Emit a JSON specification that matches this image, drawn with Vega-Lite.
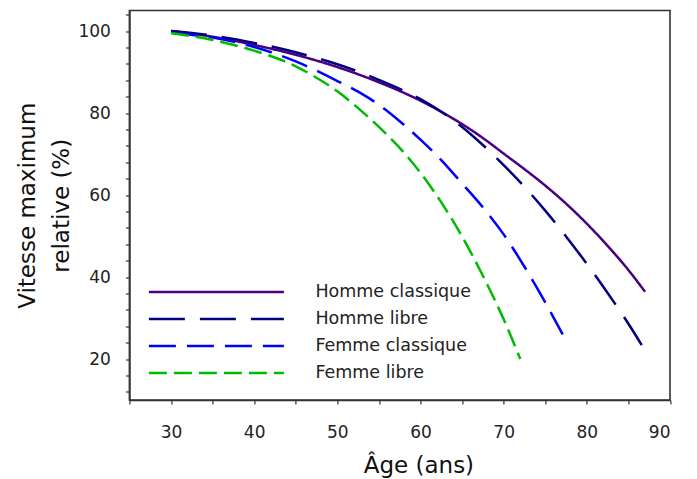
{
  "$schema": "https://vega.github.io/schema/vega-lite/v6.json",
  "width": 540.6,
  "height": 389.5,
  "autosize": "none",
  "padding": {"left": 129.4, "top": 10.5, "right": 27, "bottom": 79},
  "view": {"stroke": "#333", "strokeWidth": 1.6, "fill": null},
  "config": {
    "font": "DejaVu Sans",
    "view": {"stroke": "#333", "strokeWidth": 1.6},
    "legend": {
      "orient": "none",
      "legendX": 18,
      "legendY": 268,
      "symbolType": "stroke",
      "symbolSize": 18225,
      "symbolStrokeWidth": 2.5,
      "clipHeight": 27,
      "rowPadding": 0,
      "padding": 0,
      "labelOffset": 30,
      "labelFontSize": 17.5,
      "labelColor": "#222",
      "labelFont": "DejaVu Sans",
      "symbolOffset": 0
    }
  },
  "data": {
    "values": [
      {"age": 30, "v": 100, "serie": "Homme classique"},
      {"age": 35, "v": 98.6, "serie": "Homme classique"},
      {"age": 40, "v": 96.6, "serie": "Homme classique"},
      {"age": 45, "v": 94.2, "serie": "Homme classique"},
      {"age": 50, "v": 91.2, "serie": "Homme classique"},
      {"age": 55, "v": 87.5, "serie": "Homme classique"},
      {"age": 60, "v": 83, "serie": "Homme classique"},
      {"age": 62.5, "v": 80.3, "serie": "Homme classique"},
      {"age": 65, "v": 77.3, "serie": "Homme classique"},
      {"age": 67.5, "v": 73.9, "serie": "Homme classique"},
      {"age": 70, "v": 70.1, "serie": "Homme classique"},
      {"age": 72.5, "v": 66.3, "serie": "Homme classique"},
      {"age": 75, "v": 62.3, "serie": "Homme classique"},
      {"age": 77.5, "v": 57.9, "serie": "Homme classique"},
      {"age": 80, "v": 53, "serie": "Homme classique"},
      {"age": 82.5, "v": 47.6, "serie": "Homme classique"},
      {"age": 85, "v": 41.7, "serie": "Homme classique"},
      {"age": 87, "v": 36.4, "serie": "Homme classique"},
      {"age": 30, "v": 100, "serie": "Homme libre"},
      {"age": 35, "v": 98.9, "serie": "Homme libre"},
      {"age": 40, "v": 97.1, "serie": "Homme libre"},
      {"age": 45, "v": 94.8, "serie": "Homme libre"},
      {"age": 50, "v": 91.9, "serie": "Homme libre"},
      {"age": 55, "v": 88.1, "serie": "Homme libre"},
      {"age": 57.5, "v": 85.9, "serie": "Homme libre"},
      {"age": 60, "v": 83.4, "serie": "Homme libre"},
      {"age": 62.5, "v": 80.3, "serie": "Homme libre"},
      {"age": 65, "v": 76.6, "serie": "Homme libre"},
      {"age": 67.5, "v": 72.2, "serie": "Homme libre"},
      {"age": 70, "v": 67.3, "serie": "Homme libre"},
      {"age": 72.5, "v": 62, "serie": "Homme libre"},
      {"age": 75, "v": 56.2, "serie": "Homme libre"},
      {"age": 77.5, "v": 49.9, "serie": "Homme libre"},
      {"age": 80, "v": 43.2, "serie": "Homme libre"},
      {"age": 82.5, "v": 36.1, "serie": "Homme libre"},
      {"age": 85, "v": 28.6, "serie": "Homme libre"},
      {"age": 86.6, "v": 23.4, "serie": "Homme libre"},
      {"age": 30, "v": 99.6, "serie": "Femme classique"},
      {"age": 35, "v": 98.4, "serie": "Femme classique"},
      {"age": 40, "v": 96.1, "serie": "Femme classique"},
      {"age": 45, "v": 92.6, "serie": "Femme classique"},
      {"age": 50, "v": 87.8, "serie": "Femme classique"},
      {"age": 52.5, "v": 85.2, "serie": "Femme classique"},
      {"age": 55, "v": 82, "serie": "Femme classique"},
      {"age": 57.5, "v": 78, "serie": "Femme classique"},
      {"age": 60, "v": 73.5, "serie": "Femme classique"},
      {"age": 62.5, "v": 68.5, "serie": "Femme classique"},
      {"age": 65, "v": 62.8, "serie": "Femme classique"},
      {"age": 67.5, "v": 57, "serie": "Femme classique"},
      {"age": 70, "v": 50.4, "serie": "Femme classique"},
      {"age": 72.5, "v": 42.5, "serie": "Femme classique"},
      {"age": 75, "v": 33.8, "serie": "Femme classique"},
      {"age": 77.1, "v": 26, "serie": "Femme classique"},
      {"age": 30, "v": 99.5, "serie": "Femme libre"},
      {"age": 35, "v": 97.8, "serie": "Femme libre"},
      {"age": 40, "v": 95.2, "serie": "Femme libre"},
      {"age": 45, "v": 91.4, "serie": "Femme libre"},
      {"age": 47.5, "v": 88.6, "serie": "Femme libre"},
      {"age": 50, "v": 85.3, "serie": "Femme libre"},
      {"age": 52.5, "v": 81.2, "serie": "Femme libre"},
      {"age": 55, "v": 76.6, "serie": "Femme libre"},
      {"age": 57.5, "v": 71.5, "serie": "Femme libre"},
      {"age": 60, "v": 65.4, "serie": "Femme libre"},
      {"age": 62.5, "v": 58.2, "serie": "Femme libre"},
      {"age": 65, "v": 49.9, "serie": "Femme libre"},
      {"age": 67.5, "v": 40.3, "serie": "Femme libre"},
      {"age": 70, "v": 29.7, "serie": "Femme libre"},
      {"age": 72, "v": 20, "serie": "Femme libre"}
    ]
  },
  "mark": {"type": "line", "interpolate": "monotone", "strokeWidth": 2.5},
  "encoding": {
    "x": {
      "field": "age",
      "type": "quantitative",
      "scale": {"domain": [25, 90], "nice": false, "zero": false},
      "axis": {
        "title": "Âge (ans)",
        "titleFontSize": 23,
        "titleFontWeight": "normal",
        "titleColor": "#111",
        "titlePadding": 14,
        "titleX": 289,
        "titleAnchor": "middle",
        "titleAlign": "center",
        "values": [25, 30, 35, 40, 45, 50, 55, 60, 65, 70, 75, 80, 85, 90],
        "labelExpr": "datum.value % 10 === 0 ? datum.label : ''",
        "labelOverlap": false,
        "labelFontSize": 17,
        "labelColor": "#222",
        "labelPadding": 20,
        "tickSize": 4,
        "tickColor": "#333",
        "tickWidth": 1.2,
        "domain": true,
        "domainColor": "#333",
        "domainWidth": 1.6,
        "grid": false
      }
    },
    "y": {
      "field": "v",
      "type": "quantitative",
      "scale": {"domain": [10, 105], "nice": false, "zero": false},
      "axis": {
        "title": ["Vitesse maximum", "relative (%)"],
        "titleFontSize": 23,
        "titleFontWeight": "normal",
        "titleColor": "#111",
        "titlePadding": 4,
        "titleLineHeight": 34,
        "values": [12, 16, 20, 24, 28, 32, 36, 40, 44, 48, 52, 56, 60, 64, 68, 72, 76, 80, 84, 88, 92, 96, 100, 104],
        "labelExpr": "datum.value % 20 === 0 ? datum.label : ''",
        "labelOverlap": false,
        "labelFontSize": 17,
        "labelColor": "#222",
        "labelPadding": 15,
        "tickSize": 4,
        "tickColor": "#333",
        "tickWidth": 1.2,
        "domain": true,
        "domainColor": "#333",
        "domainWidth": 1.6,
        "grid": false
      }
    },
    "color": {
      "field": "serie",
      "type": "nominal",
      "sort": ["Homme classique", "Homme libre", "Femme classique", "Femme libre"],
      "scale": {
        "domain": ["Homme classique", "Homme libre", "Femme classique", "Femme libre"],
        "range": ["#4B0082", "#000080", "#0000FF", "#00BB00"]
      },
      "legend": {"title": null}
    },
    "strokeDash": {
      "field": "serie",
      "type": "nominal",
      "sort": ["Homme classique", "Homme libre", "Femme classique", "Femme libre"],
      "scale": {
        "domain": ["Homme classique", "Homme libre", "Femme classique", "Femme libre"],
        "range": [[1, 0], [36, 15], [27, 11], [18, 7]]
      },
      "legend": {"title": null}
    }
  }
}
